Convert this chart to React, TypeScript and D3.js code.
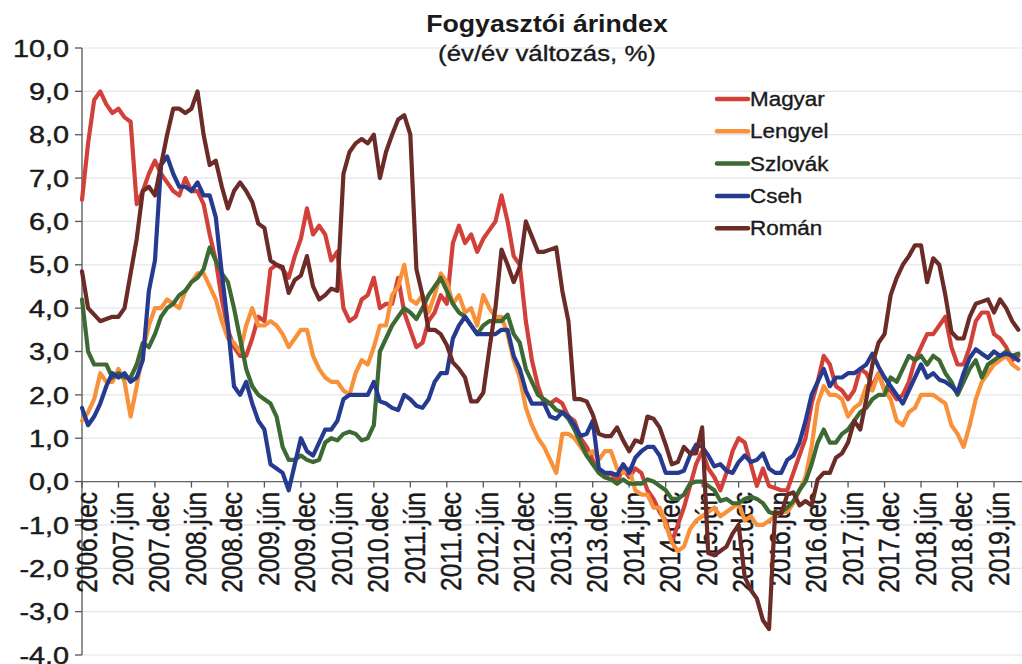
import React from 'react';
import * as d3 from 'd3';

// Monthly data: index 0 = 2006.dec, index 154 = 2019.okt
const tickLabels = [
  '2006.dec', '2007.jún', '2007.dec', '2008.jún', '2008.dec', '2009.jún', '2009.dec',
  '2010.jún', '2010.dec', '2011.jún', '2011.dec', '2012.jún', '2012.dec', '2013.jún',
  '2013.dec', '2014.jún', '2014.dec', '2015.jún', '2015.dec', '2016.jún', '2016.dec',
  '2017.jún', '2017.dec', '2018.jún', '2018.dec', '2019.jún',
];

const magyar = [
  6.5,
  7.8, 8.8, 9.0, 8.7, 8.5, 8.6, 8.4, 8.3, 6.4, 6.7, 7.1, 7.4,
  7.1, 6.9, 6.7, 6.6, 7.0, 6.7, 6.7, 6.4, 5.7, 5.1, 4.2, 3.5,
  3.1, 2.9, 2.9, 3.3, 3.8, 3.7, 4.9, 5.0, 4.9, 4.7, 5.2, 5.6,
  6.3, 5.7, 5.9, 5.7, 5.1, 5.3, 4.0, 3.7, 3.8, 4.2, 4.3, 4.7,
  4.0, 4.1, 4.1, 4.7, 3.9, 3.5, 3.1, 3.2, 3.7, 3.9, 4.3, 4.1,
  5.5, 5.9, 5.5, 5.7, 5.3, 5.6, 5.8, 6.0, 6.6, 6.0, 5.2, 5.0,
  3.7, 2.8, 2.2, 1.8, 1.8, 1.9, 1.8, 1.5, 1.4, 1.0, 0.8, 0.5,
  0.2, 0.1, 0.2, 0.0, 0.3, 0.1, 0.3, 0.2, -0.2, -0.4, -0.7, -0.9,
  -1.4, -1.0, -0.6, -0.1, 0.4, 0.7, 0.3, 0.1, -0.2, 0.2, 0.7, 1.0,
  0.9, 0.4, -0.1, 0.3, -0.1, -0.15, -0.2, -0.2, 0.2, 0.6, 1.0, 1.8,
  2.3, 2.9, 2.7, 2.2, 2.1, 1.9, 2.1, 2.6, 2.5, 2.2, 2.5, 2.1,
  2.1, 1.9, 2.0, 2.3, 2.8, 3.1, 3.4, 3.4, 3.6, 3.8, 3.1, 2.7,
  2.7, 3.1, 3.7, 3.9, 3.9, 3.4, 3.3, 3.1, 2.8, 2.9,
];

const lengyel = [
  1.4,
  1.6, 1.9, 2.5, 2.3, 2.3, 2.6, 2.3, 1.5, 2.2, 3.0, 3.6, 4.0,
  4.0, 4.2, 4.1, 4.0, 4.4, 4.6, 4.8, 4.8, 4.5, 4.2, 3.7, 3.3,
  3.2, 3.0, 3.6, 4.0, 3.6, 3.6, 3.7, 3.6, 3.4, 3.1, 3.3, 3.5,
  3.5, 2.9, 2.6, 2.4, 2.3, 2.3, 2.1, 2.0, 2.5, 2.8, 2.7, 3.1,
  3.6, 3.6, 4.3, 4.5, 5.0, 4.2, 4.1, 4.3, 3.9, 4.3, 4.8, 4.6,
  4.1, 4.3, 3.9, 4.0, 3.6, 4.3, 4.0, 3.8, 3.8, 3.4, 2.8, 2.4,
  1.7, 1.3, 1.0, 0.8, 0.5, 0.2, 1.1, 1.1, 1.0, 0.8, 0.6, 0.7,
  0.5, 0.7, 0.7, 0.3, 0.2, 0.3, -0.2, -0.3, -0.3, -0.6, -0.6, -1.0,
  -1.4, -1.6, -1.5, -1.1, -0.9, -0.8, -0.7, -0.6, -0.8, -0.7, -0.6, -0.5,
  -0.9, -0.8, -1.0, -1.0, -0.9, -0.8, -0.7, -0.7, -0.5, -0.2, 0.1, 0.8,
  1.8, 2.2, 2.0, 2.0, 1.9, 1.5, 1.7, 1.8, 2.2, 2.1, 2.5, 2.1,
  1.9, 1.4, 1.3, 1.6, 1.7, 2.0, 2.0, 2.0, 1.9, 1.8, 1.3, 1.1,
  0.8, 1.3, 1.9, 2.3, 2.5, 2.7, 2.8, 2.9, 2.7, 2.6,
];

const szlovak = [
  4.2,
  3.0, 2.7, 2.7, 2.7, 2.4, 2.5, 2.4, 2.4, 2.7, 3.2, 3.1, 3.4,
  3.8, 4.0, 4.1, 4.3, 4.4, 4.6, 4.7, 4.9, 5.4, 5.1, 4.8, 4.6,
  4.0, 3.3, 2.6, 2.2, 2.0, 1.9, 1.8, 1.5, 0.8, 0.5, 0.5, 0.6,
  0.5, 0.45, 0.5, 0.9, 1.0, 0.95, 1.1, 1.15, 1.1, 0.95, 1.0, 1.3,
  3.0, 3.3, 3.6, 3.8, 4.0, 3.9, 3.75, 4.0, 4.3, 4.5, 4.7, 4.4,
  4.1, 3.9, 3.8, 3.6, 3.4, 3.6, 3.7, 3.7, 3.7, 3.85, 3.4, 3.2,
  2.6, 2.3, 2.0, 1.9, 1.8, 1.65, 1.6, 1.45, 1.2, 0.9, 0.6, 0.4,
  0.2, 0.1, 0.05, -0.05, 0.05, -0.05, -0.05, -0.05, 0.05, 0.0, -0.1, -0.2,
  -0.4, -0.4, -0.3, -0.05, 0.0, 0.0, -0.1, -0.2, -0.45, -0.4, -0.5, -0.5,
  -0.4, -0.35, -0.4, -0.5, -0.7, -0.75, -0.7, -0.6, -0.45, -0.2, 0.0, 0.4,
  0.9, 1.2, 0.9, 0.9, 1.1, 1.2, 1.4, 1.6, 1.7, 1.9, 2.0, 2.0,
  2.4, 2.3, 2.6, 2.9, 2.8, 2.9, 2.7, 2.9, 2.8, 2.5, 2.3, 2.0,
  2.3, 2.6, 2.8, 2.4, 2.7, 2.8, 2.9, 3.0, 2.9, 2.95,
];

const cseh = [
  1.7,
  1.3, 1.5, 1.8, 2.2, 2.5, 2.4, 2.5, 2.3, 2.4, 2.8, 4.4, 5.1,
  7.3, 7.5, 7.1, 6.8, 6.8, 6.7, 6.9, 6.6, 6.6, 6.1, 4.8, 3.6,
  2.2, 2.0, 2.3, 1.8, 1.4, 1.2, 0.4, 0.3, 0.2, -0.2, 0.4, 1.0,
  0.7, 0.6, 0.9, 1.2, 1.2, 1.4, 1.9, 2.0, 2.0, 2.0, 2.0, 2.3,
  1.85, 1.8, 1.7, 1.65, 2.0, 1.9, 1.75, 1.7, 1.9, 2.3, 2.5, 2.5,
  3.3, 3.6, 3.8, 3.6, 3.4, 3.4, 3.4, 3.4, 3.5, 3.5, 2.9, 2.6,
  2.1, 1.8, 1.8, 1.8, 1.5, 1.45, 1.6, 1.5, 1.3, 1.05, 1.1, 1.4,
  0.3, 0.2, 0.2, 0.15, 0.4, 0.2, 0.55, 0.7, 0.8, 0.8, 0.6, 0.2,
  0.2, 0.2, 0.25, 0.6, 0.85, 0.8, 0.6, 0.35, 0.4, 0.25, 0.2, 0.45,
  0.6, 0.45, 0.5, 0.65, 0.3, 0.2, 0.2, 0.5, 0.6, 0.9, 1.4, 2.0,
  2.3, 2.6, 2.2, 2.4, 2.4, 2.5, 2.5, 2.6, 2.7, 2.95, 2.65, 2.4,
  2.2, 2.0, 1.8, 2.1, 2.4, 2.7, 2.4, 2.5, 2.35, 2.3, 2.2, 2.05,
  2.5, 2.85, 3.05, 2.95, 2.85, 3.0, 2.9, 2.95, 2.9, 2.8,
];

const roman = [
  4.85,
  4.0, 3.85, 3.7, 3.75, 3.8, 3.8, 4.0, 4.8, 5.6, 6.7, 6.8, 6.6,
  7.3, 8.0, 8.6, 8.6, 8.5, 8.6, 9.0, 8.0, 7.3, 7.4, 6.8, 6.3,
  6.7, 6.9, 6.7, 6.45, 5.95, 5.85, 5.1, 5.0, 4.95, 4.35, 4.65, 4.75,
  5.2, 4.5, 4.2, 4.3, 4.45, 4.4, 7.1, 7.6, 7.8, 7.9, 7.8, 8.0,
  7.0, 7.6, 8.0, 8.35, 8.45, 8.0, 4.9, 4.3, 3.5, 3.5, 3.4, 3.15,
  2.75, 2.6, 2.4, 1.85, 1.85, 2.05, 3.05, 4.0, 5.35, 5.0, 4.6, 4.95,
  6.0, 5.65, 5.3, 5.3, 5.35, 5.4, 4.4, 3.7, 1.9, 1.9, 1.85, 1.55,
  1.1, 1.05, 1.05, 1.25, 0.95, 0.7, 0.95, 0.9, 1.5, 1.45, 1.25, 0.85,
  0.4, 0.45, 0.8, 0.65, 0.65, 1.25, -1.65, -1.7, -1.6, -1.5, -1.2, -1.0,
  -2.2, -2.5, -2.7, -3.2, -3.4, -0.7, -0.75, -0.3, -0.25, -0.55, -0.45, -0.55,
  0.05, 0.2, 0.2, 0.55, 0.65, 0.9, 1.4, 1.2, 1.9, 2.7, 3.2, 3.4,
  4.3, 4.7, 5.0, 5.2, 5.45, 5.45, 4.6, 5.15, 5.0, 4.3, 3.45, 3.3,
  3.3, 3.8, 4.1, 4.15, 4.2, 3.9, 4.2, 4.0, 3.7, 3.5,
];

const seriesNames = ['Magyar', 'Lengyel', 'Szlovák', 'Cseh', 'Román'];
const seriesColors = ['#d2403a', '#f7923a', '#3d6a32', '#263b8f', '#6b2b27'];
const seriesValues = [magyar, lengyel, szlovak, cseh, roman];

const FONT = '"Liberation Sans", Arial, Helvetica, sans-serif';
const INK = '#1a1a1a';

export default function App() {
  const W = 1022;
  const H = 664;
  const nMax = 154;
  const x = d3.scaleLinear().domain([0, nMax]).range([82, 82 + nMax * 6.08]);
  const y = d3.scaleLinear().domain([-4, 10]).range([655, 48]);
  const line = d3
    .line<number>()
    .x((_d, i) => x(i))
    .y((d) => y(d))
    .curve(d3.curveLinear);
  const yTicks = d3.range(-4, 11);
  const xTickIdx = tickLabels.map((_l, k) => k * 6);
  const fmt = (v: number) => v.toFixed(1).replace('.', ',');
  const sx = 1.2;

  return (
    <svg
      width={W}
      height={H}
      viewBox={`0 0 ${W} ${H}`}
      style={{ position: 'absolute', left: 0, top: 0, background: '#fff' }}
      fontFamily={FONT}
    >
      <rect x={0} y={0} width={W} height={H} fill="#fff" />
      {/* gridlines */}
      {yTicks.map((t) => (
        <line key={'g' + t} x1={x(0)} x2={W} y1={y(t)} y2={y(t)} stroke="#e4e4ee" strokeWidth={1.2} />
      ))}
      {/* y axis */}
      <line x1={x(0)} x2={x(0)} y1={y(10)} y2={y(-4)} stroke="#555" strokeWidth={1.3} />
      {yTicks.map((t) => (
        <g key={'yt' + t}>
          <line x1={x(0) - 7} x2={x(0)} y1={y(t)} y2={y(t)} stroke="#555" strokeWidth={1.3} />
          <g transform={`translate(69,${y(t)}) scale(${sx},1)`}>
            <text x={0} y={0} dy="0.36em" textAnchor="end" fontSize={24} fill={INK} stroke={INK} strokeWidth={0.45}>
              {fmt(t)}
            </text>
          </g>
        </g>
      ))}
      {/* x axis */}
      <line x1={x(0)} x2={W} y1={y(0)} y2={y(0)} stroke="#666" strokeWidth={1.3} />
      {xTickIdx.map((idx, k) => (
        <g key={'xt' + idx}>
          <line x1={x(idx)} x2={x(idx)} y1={y(0)} y2={y(0) + 6} stroke="#555" strokeWidth={1.3} />
          <g transform={`translate(${x(idx) + 14.5},492) scale(${sx},1) rotate(-90)`}>
            <text x={0} y={0} textAnchor="end" fontSize={24.5} fill={INK} stroke={INK} strokeWidth={0.4}>
              {tickLabels[k]}
            </text>
          </g>
        </g>
      ))}
      {/* series */}
      {seriesValues.map((vals, s) => (
        <path
          key={seriesNames[s]}
          d={line(vals) || ''}
          fill="none"
          stroke={seriesColors[s]}
          strokeWidth={4.2}
          strokeLinejoin="round"
          strokeLinecap="round"
        />
      ))}
      {/* title */}
      <g transform={`translate(547,32) scale(1.16,1)`}>
        <text x={0} y={0} textAnchor="middle" fontSize={23} fontWeight="bold" fill={INK}>
          Fogyasztói árindex
        </text>
      </g>
      <g transform={`translate(547,61) scale(1.2,1)`}>
        <text x={0} y={0} textAnchor="middle" fontSize={21.5} fill={INK} stroke={INK} strokeWidth={0.35}>
          (év/év változás, %)
        </text>
      </g>
      {/* legend */}
      {seriesNames.map((name, s) => {
        const ly = 99 + s * 32.3;
        return (
          <g key={'lg' + name}>
            <line x1={717} x2={748} y1={ly} y2={ly} stroke={seriesColors[s]} strokeWidth={4.5} strokeLinecap="round" />
            <g transform={`translate(750,${ly + 7}) scale(1.15,1)`}>
              <text x={0} y={0} fontSize={19.5} fill={INK} stroke={INK} strokeWidth={0.35}>
                {name}
              </text>
            </g>
          </g>
        );
      })}
    </svg>
  );
}
